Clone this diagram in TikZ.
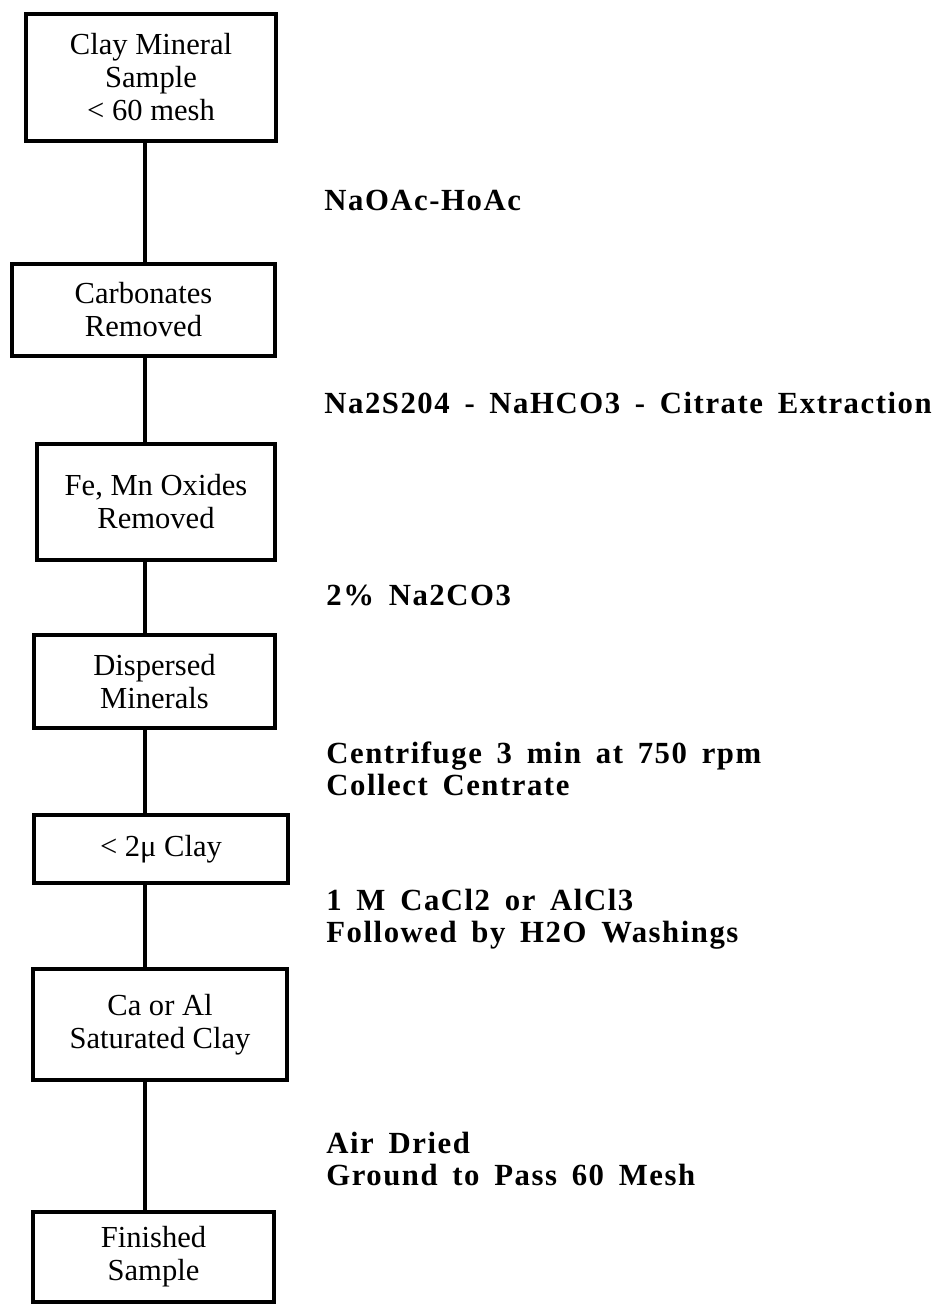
\documentclass[tikz,border=0pt]{standalone}
\usepackage{fontspec}
\setmainfont{Liberation Serif}
\newfontfamily\labelfont[LetterSpace=5,WordSpace=1.6]{Liberation Serif}
\begin{document}
\begin{tikzpicture}[x=0.02cm,y=-0.02cm,
  box/.style={draw,line width=2.2pt,align=center,inner sep=0pt,
              font={\fontsize{17.4}{18.8}\selectfont}},
  heavy/.style={line width=2.8pt},
  stepnote/.style={anchor=west,align=left,inner sep=0pt,
              font={\labelfont\bfseries\fontsize{17.5}{18}\selectfont}},
  link/.style={line width=2.4pt}]
\useasboundingbox (0,0) rectangle (938,1307);
\coordinate (spine) at (145,0);
\node[box,minimum width=5cm,minimum height=2.54cm] (sample) at (151,77.5)
  {Clay Mineral\\Sample\\< 60 mesh};
\node[box,minimum width=5.26cm,minimum height=1.84cm] (carb) at (143.5,310)
  {Carbonates\\Removed};
\node[box,minimum width=4.76cm,minimum height=2.32cm] (oxide) at (156,502)
  {Fe, Mn Oxides\\Removed};
\node[box,heavy,minimum width=4.82cm,minimum height=1.86cm] (disp) at (154.5,681.5)
  {Dispersed\\Minerals};
\node[box,heavy,minimum width=5.08cm,minimum height=1.36cm] (fine) at (161,849)
  {< 2μ Clay};
\node[box,heavy,minimum width=5.08cm,minimum height=2.22cm] (satur) at (160,1024.5)
  {Ca or Al\\Saturated Clay};
\node[box,heavy,minimum width=4.82cm,minimum height=1.8cm] (done) at (153.5,1257)
  {Finished\\Sample};
\foreach \a/\b in {sample/carb,carb/oxide,oxide/disp,disp/fine,fine/satur,satur/done}
  \draw[link] (\a.south -| spine) -- (\b.north -| spine);
\node[stepnote] (acetate) at (324,200) {NaOAc-HoAc};
\node[stepnote] (citrate) at (324,403) {Na2S204 - NaHCO3 - Citrate Extraction};
\node[stepnote] (soda) at (326,595) {2\% Na2CO3};
\node[stepnote] (spin) at (326,769) {Centrifuge 3 min at 750 rpm\\Collect Centrate};
\node[stepnote] (wash) at (326,919) {1 M CaCl2 or AlCl3\\Followed by H2O Washings};
\node[stepnote] (dry) at (326,1159) {Air Dried\\Ground to Pass 60 Mesh};
\end{tikzpicture}
\end{document}
